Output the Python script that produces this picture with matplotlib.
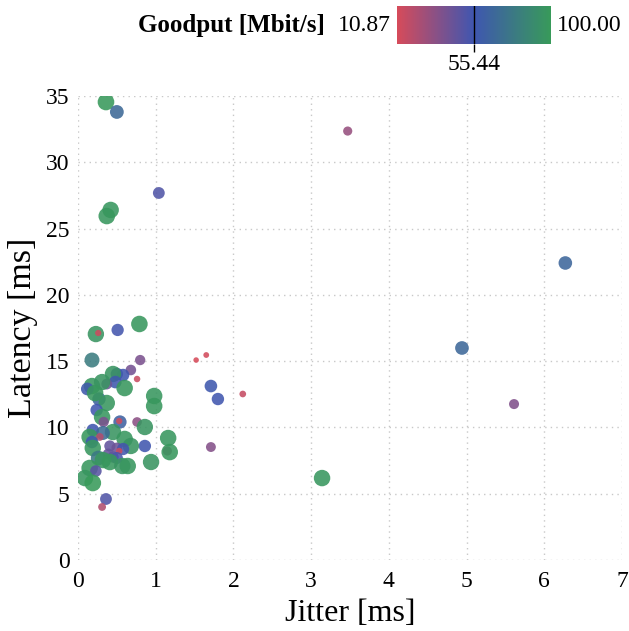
import matplotlib
matplotlib.use("Agg")
import matplotlib.pyplot as plt
from matplotlib.colors import LinearSegmentedColormap, Normalize
import matplotlib.cm as cm

plt.rcParams['font.family'] = ['Liberation Serif', 'DejaVu Serif']

# Jitter [ms], Latency [ms], Goodput [Mbit/s]
jitter = [0.36, 0.50, 3.47, 1.04, 0.42, 0.37, 6.27, 4.94, 5.61, 3.14,
          1.71, 1.80, 1.71, 2.12, 1.52, 1.65, 0.79, 0.51, 0.23, 0.26,
          0.18, 0.80, 0.68, 0.76, 0.98, 0.98, 0.76, 0.86, 0.86, 1.16,
          1.15, 1.18, 0.94, 0.36, 0.31,
          0.50, 0.58, 0.45, 0.48, 0.37, 0.60, 0.18, 0.12, 0.31, 0.27,
          0.37, 0.22, 0.24, 0.31, 0.33, 0.54, 0.53, 0.19, 0.45, 0.32,
          0.15, 0.28, 0.60, 0.68, 0.18, 0.19, 0.41, 0.50, 0.58, 0.53,
          0.39, 0.45, 0.50, 0.26, 0.32, 0.41, 0.57, 0.64, 0.15, 0.23,
          0.09, 0.19]
latency = [34.54, 33.79, 32.35, 27.68, 26.40, 25.94, 22.40, 15.99, 11.76, 6.18,
           8.52, 12.14, 13.12, 12.52, 15.08, 15.46, 17.80, 17.35, 17.04, 17.12,
           15.08, 15.08, 14.33, 13.65, 12.37, 11.61, 10.41, 10.03, 8.60, 9.20,
           8.22, 8.14, 7.39, 4.60, 4.00,
           14.03, 13.95, 14.03, 13.42, 13.27, 12.97, 13.12, 12.90, 13.42, 12.14,
           11.84, 12.59, 11.31, 10.78, 10.41, 10.41, 10.48, 9.80, 9.65, 9.58,
           9.28, 9.28, 9.13, 8.60, 8.90, 8.45, 8.60, 8.45, 8.37, 8.22,
           7.99, 7.77, 7.69, 7.69, 7.54, 7.39, 7.09, 7.09, 6.94, 6.71,
           6.18, 5.81]
goodput = [99, 68, 30, 50, 97, 98, 66, 67, 36, 97,
           35, 55, 57, 16, 10.87, 12, 98, 54, 96, 14,
           80, 38, 40, 15, 97, 98, 33, 96, 55, 97,
           30, 98, 96, 50, 22,
           55, 56, 96, 57, 42, 98, 97, 58, 96, 64,
           97, 98, 55, 97, 38, 63, 14, 56, 96, 70,
           98, 22, 97, 96, 56, 97, 45, 42, 54, 15,
           44, 46, 52, 78, 97, 98, 96, 97, 98, 48,
           97, 100]

cbar_ticks = [55.44]
gmin, gmax = 10.87, 100.00

cmap = LinearSegmentedColormap.from_list(
    'goodput', ['#d64b5a', '#3f56b0', '#389a5a'])
norm = Normalize(vmin=gmin, vmax=gmax)

fig = plt.figure(figsize=(6.29, 6.31), dpi=100)
ax = fig.add_axes([0.124, 0.1125, 0.865, 0.7355])

sizes = [g * 1.45 for g in goodput]
ax.scatter(jitter, latency, c=goodput, s=sizes, cmap=cmap, norm=norm,
           alpha=0.88, linewidths=0, zorder=3)

ax.set_xlim(0, 7)
ax.set_ylim(0, 35)
ax.set_xticks(range(0, 8))
ax.set_yticks(range(0, 36, 5))
ax.grid(True, linestyle=(0, (1, 3)), color='#c8c8c8', linewidth=1, zorder=0)
for s in ax.spines.values():
    s.set_visible(False)
ax.tick_params(length=0, labelsize=17)
ax.tick_params(axis='x', pad=8)
ax.tick_params(axis='y', pad=6)
ax.set_xlabel('Jitter [ms]', fontsize=23, labelpad=5)
ax.set_ylabel('Latency [ms]', fontsize=24.5, labelpad=6)

# colorbar on top
cax = fig.add_axes([0.631, 0.930, 0.245, 0.060])
cb = fig.colorbar(cm.ScalarMappable(norm=norm, cmap=cmap), cax=cax,
                  orientation='horizontal')
cb.outline.set_visible(False)
cb.set_ticks(cbar_ticks)
cb.set_ticklabels(['%.2f' % t for t in cbar_ticks])
cax.tick_params(length=6, width=1, labelsize=17, pad=1)
cax.axvline(cbar_ticks[0], color='black', linewidth=1)
cax.text(-0.04, 0.5, '%.2f' % gmin, transform=cax.transAxes,
         ha='right', va='center', fontsize=17)
cax.text(1.04, 0.5, '%.2f' % gmax, transform=cax.transAxes,
         ha='left', va='center', fontsize=17)
cax.text(-0.47, 0.5, 'Goodput [Mbit/s]', transform=cax.transAxes,
         ha='right', va='center', fontsize=18, fontweight='bold')

fig.savefig('out.png', dpi=100)
